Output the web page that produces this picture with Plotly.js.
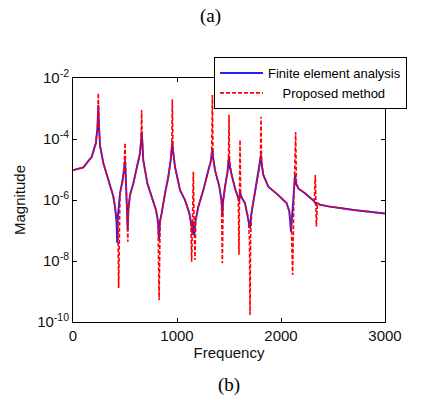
<!DOCTYPE html>
<html>
<head>
<meta charset="utf-8">
<script src="https://cdn.plot.ly/plotly-3.0.1.min.js"></script>
<style>html,body{margin:0;padding:0;background:#fff;}#chart{width:421px;height:400px;}</style>
</head>
<body>
<div id="chart"></div>
<script>
// Finite element analysis (blue solid)
const freqFEA = [0,100,180,220,236,243,250,260,292,340,388,404,418,425,432,452,478,493,500,508,520,526,532,548,580,619,644,655,660,666,676,715,756,798,818,827,836,852,885,917,939,950,955,962,981,1029,1077,1119,1140,1148,1157,1166,1175,1205,1253,1301,1324,1334,1340,1347,1365,1407,1428,1436,1444,1462,1485,1500,1508,1526,1558,1590,1598,1606,1622,1654,1686,1702,1712,1734,1766,1792,1808,1816,1830,1878,1974,2055,2080,2096,2104,2120,2135,2145,2166,2231,2320,2337,2345,2375,2455,2700,3000];
const magFEA = [9.5e-6,1.17e-5,2.6e-5,7.4e-5,2.5e-4,1.3e-3,2.5e-4,6e-5,1.6e-5,4.6e-6,1.3e-6,6.0e-7,2.0e-7,3.9e-8,3.0e-7,1.66e-6,4.6e-6,1.2e-5,2.0e-5,5.0e-6,6.0e-7,1.05e-7,5.0e-7,1.45e-6,3.5e-6,1.23e-5,3.4e-5,9.0e-5,1.74e-4,9.0e-5,2.0e-5,3.5e-6,1.3e-6,4.7e-7,2.0e-7,4.9e-8,2.0e-7,3.6e-7,1.66e-6,5.9e-6,2.0e-5,5.0e-5,8.1e-5,4.0e-5,1.23e-5,2.1e-6,1.0e-6,3.6e-7,1.5e-7,7.9e-8,2.0e-7,7.0e-8,1.8e-7,6.0e-7,2.1e-6,9.5e-6,1.8e-5,3.0e-5,5.0e-5,2.5e-5,9.5e-6,2.75e-6,1.0e-6,3.2e-7,1.0e-6,2.75e-6,8.0e-6,2.6e-5,1.2e-5,6.6e-6,2.4e-6,1.12e-6,9.0e-7,1.8e-6,1.2e-6,7.8e-7,2.5e-7,1.17e-7,3.0e-7,8.9e-7,4.0e-6,1.1e-5,3.0e-5,1.3e-5,6.6e-6,2.75e-6,1.45e-6,7.8e-7,4.2e-7,9.1e-8,2.0e-7,1.0e-6,6.6e-6,3.5e-6,2.4e-6,1.66e-6,9.0e-7,7.2e-7,8.0e-7,7.0e-7,6.2e-7,4.7e-7,3.6e-7];

// Proposed method (red dashed)
const freqPM = [0,100,180,220,236,243,250,260,292,340,388,404,420,432,439,446,452,478,493,500,506,518,527,534,548,580,619,644,655,660,666,676,715,756,798,818,828,838,852,885,917,939,950,955,961,981,1029,1077,1119,1134,1141,1149,1157,1165,1173,1181,1205,1253,1301,1324,1334,1340,1346,1365,1407,1428,1436,1444,1462,1485,1496,1500,1505,1526,1558,1590,1596,1600,1606,1612,1622,1654,1686,1697,1702,1708,1718,1734,1766,1792,1803,1808,1813,1830,1878,1974,2055,2080,2100,2112,2122,2135,2141,2148,2166,2231,2320,2330,2340,2350,2375,2455,2700,3000];
const magPM = [9.5e-6,1.17e-5,2.6e-5,7.4e-5,3.0e-4,3.2e-3,3.0e-4,6e-5,1.6e-5,4.6e-6,1.3e-6,6.0e-7,2.0e-7,1.2e-7,1.3e-9,6.0e-7,1.66e-6,4.6e-6,1.4e-5,7.4e-5,1.0e-5,8.0e-7,4.3e-8,5.0e-7,1.45e-6,3.5e-6,1.23e-5,3.4e-5,1.0e-4,8.9e-4,1.0e-4,2.0e-5,3.5e-6,1.3e-6,4.7e-7,1.5e-7,5.2e-10,2.0e-7,3.6e-7,1.66e-6,5.9e-6,2.0e-5,6.0e-5,2.0e-3,5.0e-5,1.23e-5,2.1e-6,1.0e-6,3.6e-7,1.5e-7,9.5e-9,2.0e-7,8.5e-6,1.5e-7,1.07e-8,2.5e-7,6.0e-7,2.1e-6,9.5e-6,1.8e-5,4.0e-5,2.75e-3,3.0e-5,9.5e-6,2.75e-6,8.0e-7,8.5e-9,8.0e-7,2.75e-6,8.0e-6,3.0e-5,6.2e-4,2.0e-5,6.6e-6,2.4e-6,1.12e-6,1.6e-8,1.0e-6,9.3e-5,1.5e-6,1.2e-6,7.8e-7,2.5e-7,5.0e-8,1.7e-10,6.0e-8,4.0e-7,8.9e-7,4.0e-6,1.1e-5,3.0e-5,5.4e-4,2.0e-5,6.6e-6,2.75e-6,1.45e-6,7.8e-7,4.2e-7,1.2e-7,3.5e-9,5.0e-7,1.5e-5,1.7e-4,4.0e-6,2.4e-6,1.66e-6,9.0e-7,6.6e-6,1.35e-7,8.0e-7,7.0e-7,6.2e-7,4.7e-7,3.6e-7];

const xTicks = [0,1000,2000,3000];
const yTicks = [1e-10,1e-8,1e-6,1e-4,1e-2];
const yTickText = ['10<sup>-10</sup>','10<sup>-8</sup>','10<sup>-6</sup>','10<sup>-4</sup>','10<sup>-2</sup>'];

const font = {family:'"Liberation Sans", Arial, sans-serif', size:15, color:'#111'};

const traces = [
  {x:freqFEA, y:magFEA, type:'scatter', mode:'lines', name:'Finite element analysis',
   line:{color:'#2020ff', width:1.9}},
  {x:freqPM, y:magPM, type:'scatter', mode:'lines', name:'\u00a0\u00a0\u00a0\u00a0Proposed method',
   line:{color:'#ff0000', width:1.6, dash:'4px,2px'}}
];

const axisCommon = {showline:true, mirror:'ticks', linecolor:'#000', linewidth:1,
  ticks:'inside', ticklen:4, tickcolor:'#000', showgrid:false, zeroline:false,
  tickfont:font};

const layout = {
  width:421, height:400,
  margin:{l:73, r:36, t:78, b:78, autoexpand:false},
  paper_bgcolor:'#fff', plot_bgcolor:'#fff',
  title:{text:'(a)', x:0.5, xanchor:'center', y:0.962, yanchor:'middle',
    font:{family:'"Liberation Serif", "Times New Roman", serif', size:19, color:'#000'}},
  xaxis:Object.assign({}, axisCommon, {range:[0,3000], tickvals:xTicks, ticktext:xTicks.map(String),
    title:{text:'Frequency', font:font, standoff:3}}),
  yaxis:Object.assign({}, axisCommon, {type:'log', range:[-10,-2], tickvals:yTicks, ticktext:yTickText,
    title:{text:'Magnitude', font:font, standoff:7}}),
  legend:{x:0.452, xanchor:'left', y:1.086, yanchor:'top', bgcolor:'#fff',
    bordercolor:'#000', borderwidth:1, font:{family:'"Liberation Sans", Arial, sans-serif', size:13, color:'#000'},
    tracegroupgap:0, itemwidth:43, entrywidth:215, entrywidthmode:'pixels'},
  showlegend:true,
  annotations:[{text:'(b)', xref:'paper', yref:'paper', x:0.5, y:-0.26, xanchor:'center', yanchor:'middle',
    showarrow:false, font:{family:'"Liberation Serif", "Times New Roman", serif', size:19, color:'#000'}}]
};

Plotly.newPlot('chart', traces, layout, {staticPlot:true, displayModeBar:false});
</script>
</body>
</html>
